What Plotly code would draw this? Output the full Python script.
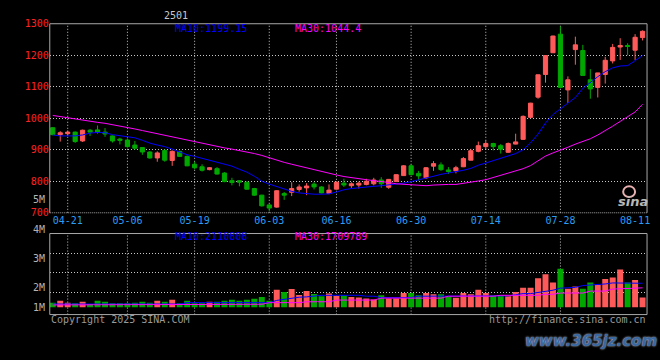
import plotly.graph_objects as go

# ---------------- data ----------------
dates = ["04-17","04-18","04-21","04-22","04-23","04-24","04-25","04-28","04-29","04-30",
         "05-06","05-07","05-08","05-09","05-12","05-13","05-14","05-15","05-16","05-19",
         "05-20","05-21","05-22","05-23","05-26","05-27","05-28","05-29","05-30","06-03",
         "06-04","06-05","06-06","06-09","06-10","06-11","06-12","06-13","06-16","06-17",
         "06-18","06-19","06-20","06-23","06-24","06-25","06-26","06-27","06-30","07-01",
         "07-02","07-03","07-04","07-07","07-08","07-09","07-10","07-11","07-14","07-15",
         "07-16","07-17","07-18","07-21","07-22","07-23","07-24","07-25","07-28","07-29",
         "07-30","07-31","08-01","08-04","08-05","08-06","08-07","08-08","08-11","08-12"]

opens = [970, 948, 951, 956, 928, 962, 963, 956, 944, 934,
         931, 915, 907, 893, 874, 898, 866, 895, 879, 854,
         846, 837, 840, 826, 802, 802, 797, 777, 756, 725,
         718, 761, 765, 774, 779, 791, 782, 761, 775, 794,
         786, 788, 790, 792, 804, 781, 799, 818, 849, 825,
         811, 848, 852, 836, 833, 846, 867, 895, 910, 920,
         913, 892, 918, 933, 1003, 1067, 1139, 1208, 1267, 1090,
         1218, 1215, 1122, 1098, 1139, 1182, 1226, 1231, 1216, 1256]
highs = [972, 959, 961, 958, 964, 966, 977, 969, 946, 938,
         936, 928, 908, 895, 895, 901, 898, 897, 882, 862,
         854, 845, 845, 829, 811, 804, 799, 779, 757, 727,
         772, 766, 797, 790, 794, 797, 784, 790, 799, 808,
         797, 799, 808, 811, 813, 807, 822, 851, 854, 833,
         845, 864, 860, 845, 849, 877, 903, 926, 929, 922,
         918, 923, 951, 1009, 1049, 1138, 1199, 1262, 1292, 1133,
         1259, 1233, 1156, 1144, 1195, 1236, 1254, 1238, 1267, 1279]
lows = [946, 926, 944, 922, 925, 944, 951, 941, 923, 917,
        907, 900, 884, 872, 862, 862, 849, 877, 848, 838,
        831, 835, 821, 797, 787, 784, 773, 754, 720, 705,
        716, 741, 753, 767, 756, 774, 762, 759, 774, 782,
        779, 777, 787, 787, 779, 776, 798, 817, 820, 802,
        807, 833, 833, 823, 825, 845, 866, 892, 902, 898,
        888, 890, 917, 931, 1000, 1062, 1113, 1207, 1098, 1049,
        1170, 1136, 1062, 1066, 1110, 1174, 1185, 1200, 1185, 1247]
closes = [948, 954, 956, 926, 962, 956, 956, 950, 928, 930,
          910, 905, 893, 874, 890, 867, 895, 879, 849, 843,
          835, 843, 823, 799, 796, 797, 775, 756, 722, 715,
          770, 756, 777, 782, 785, 782, 763, 772, 797, 788,
          792, 794, 800, 804, 792, 806, 821, 849, 821, 817,
          843, 856, 837, 831, 843, 872, 897, 913, 920, 910,
          902, 920, 925, 1006, 1048, 1138, 1199, 1261, 1098, 1122,
          1233, 1136, 1093, 1144, 1184, 1225, 1231, 1228, 1257, 1276]

ma10 = [947, 944, 944, 944, 947, 953, 955, 954, 948, 945,
        942, 938, 930, 921, 915, 910, 902, 894, 884, 879,
        873, 865, 860, 854, 848, 838, 829, 816, 800, 791,
        783, 776, 768, 763, 760, 759, 759, 760, 766, 773,
        777, 780, 782, 784, 786, 788, 790, 794, 799, 804,
        810, 816, 822, 826, 831, 835, 841, 851, 858, 865,
        874, 880, 888, 900, 922, 950, 985, 1012, 1030, 1046,
        1066, 1095, 1115, 1132, 1148, 1160, 1166, 1167, 1183, 1199.15]
ma30 = [1009, 1005, 1001, 998, 994, 990, 987, 984, 980, 976,
        971, 966, 961, 956, 951, 946, 941, 936, 931, 925,
        919, 914, 910, 906, 902, 898, 894, 888, 882, 874,
        866, 860, 854, 848, 843, 837, 831, 825, 820, 815,
        811, 808, 805, 802, 800, 796, 792, 790, 788, 787,
        786, 788, 790, 790, 790, 793, 797, 801, 805, 812,
        820, 826, 832, 840, 850, 864, 880, 890, 898, 908,
        918, 926, 935, 947, 960, 975, 990, 1004, 1020, 1044.4]

# volume in millions of lots
volume_m = [0.40, 0.57, 0.40, 0.34, 0.48, 0.28, 0.57, 0.48, 0.34, 0.34,
            0.34, 0.40, 0.48, 0.40, 0.57, 0.48, 0.66, 0.34, 0.57, 0.34,
            0.34, 0.48, 0.48, 0.57, 0.66, 0.57, 0.66, 0.74, 0.91, 0.57,
            1.54, 1.34, 1.60, 1.08, 1.42, 1.17, 0.97, 1.22, 1.00, 1.05,
            0.91, 0.85, 0.77, 0.68, 1.05, 0.77, 0.77, 1.25, 1.25, 1.05,
            1.25, 1.14, 1.14, 0.97, 0.83, 1.25, 1.14, 1.54, 1.25, 1.05,
            1.05, 0.97, 1.34, 1.71, 1.71, 2.56, 2.91, 2.19, 3.39, 1.62,
            1.82, 1.62, 2.19, 1.97, 2.48, 2.62, 3.33, 2.19, 2.39, 0.85]
vol_ma10_m = [0.28, 0.28, 0.28, 0.28, 0.28, 0.28, 0.28, 0.28, 0.28, 0.28,
              0.28, 0.28, 0.28, 0.28, 0.28, 0.28, 0.28, 0.28, 0.40, 0.40,
              0.40, 0.40, 0.40, 0.40, 0.40, 0.40, 0.40, 0.40, 0.40, 0.40,
              0.60, 0.70, 0.83, 0.88, 0.91, 1.00, 1.05, 1.05, 1.05, 1.05,
              1.05, 1.05, 0.97, 0.97, 0.85, 0.85, 0.85, 0.85, 0.85, 0.97,
              0.97, 0.97, 0.97, 0.97, 0.97, 0.97, 1.03, 1.03, 1.03, 1.00,
              1.00, 1.00, 1.10, 1.20, 1.20, 1.30, 1.42, 1.50, 1.68, 1.70,
              1.75, 1.91, 1.95, 2.05, 2.05, 2.14, 2.14, 2.14, 2.14, 2.110808]
vol_ma30_m = [0.20, 0.20, 0.20, 0.20, 0.20, 0.20, 0.20, 0.20, 0.20, 0.20,
              0.20, 0.26, 0.26, 0.26, 0.26, 0.26, 0.26, 0.26, 0.26, 0.26,
              0.26, 0.26, 0.26, 0.26, 0.26, 0.26, 0.26, 0.26, 0.26, 0.40,
              0.40, 0.40, 0.40, 0.40, 0.48, 0.48, 0.48, 0.48, 0.63, 0.63,
              0.63, 0.63, 0.63, 0.63, 0.80, 0.80, 0.80, 0.80, 0.80, 0.80,
              0.80, 0.80, 0.80, 0.97, 0.97, 0.97, 0.97, 0.97, 0.97, 0.97,
              1.05, 1.05, 1.05, 1.05, 1.05, 1.05, 1.14, 1.14, 1.25, 1.25,
              1.25, 1.25, 1.42, 1.42, 1.42, 1.60, 1.62, 1.65, 1.68, 1.709789]

tick_dates = ["04-21", "05-06", "05-19", "06-03", "06-16", "06-30", "07-14", "07-28", "08-11"]
price_ticks = [700, 800, 900, 1000, 1100, 1200, 1300]
vol_labels = ["4M", "3M", "2M", "1M"]
contract = "2501"

# ---------------- styling ----------------
W, H = 660, 360
def px(x): return x / W
def py(y): return 1 - y / H

RED = "#ff5a5a"
GREEN = "#00a800"
BLUE = "#0000ff"
MAG = "#ff00ff"
GRID = "#c8c8c8"
BORDER = "#a8a8a8"
GREY = "#b4b4b4"
MONO = "DejaVu Sans Mono"

volume = [v * 1e6 for v in volume_m]
vol_ma10 = [v * 1e6 for v in vol_ma10_m]
vol_ma30 = [v * 1e6 for v in vol_ma30_m]
bar_colors = [RED if c >= o else GREEN for o, c in zip(opens, closes)]

fig = go.Figure()
fig.add_trace(go.Candlestick(
    x=dates, open=opens, high=highs, low=lows, close=closes,
    increasing=dict(line=dict(color=RED, width=1), fillcolor=RED),
    decreasing=dict(line=dict(color=GREEN, width=1), fillcolor=GREEN),
    whiskerwidth=0, hoverinfo="skip", xaxis="x", yaxis="y"))
fig.add_trace(go.Scatter(x=dates, y=ma10, mode="lines", line=dict(color=BLUE, width=1),
                         hoverinfo="skip", xaxis="x", yaxis="y"))
fig.add_trace(go.Scatter(x=dates, y=ma30, mode="lines", line=dict(color=MAG, width=1),
                         hoverinfo="skip", xaxis="x", yaxis="y"))

fig.add_trace(go.Bar(x=dates, y=volume, marker=dict(color=bar_colors, line=dict(width=0)),
                     width=0.8, hoverinfo="skip", xaxis="x2", yaxis="y2"))
fig.add_trace(go.Scatter(x=dates, y=vol_ma10, mode="lines", line=dict(color=BLUE, width=1),
                         hoverinfo="skip", xaxis="x2", yaxis="y2"))
fig.add_trace(go.Scatter(x=dates, y=vol_ma30, mode="lines", line=dict(color=MAG, width=1),
                         hoverinfo="skip", xaxis="x2", yaxis="y2"))

xdom = [px(50), px(650)]
shapes = []
# vertical dotted grid lines at dated ticks (none at the last one)
for d in tick_dates[:-1]:
    for xr, yr in (("x", "y domain"), ("x2", "y2 domain")):
        shapes.append(dict(type="line", xref=xr, yref=yr, x0=d, x1=d, y0=0, y1=1,
                           line=dict(color=GRID, width=1, dash="1px,2px"), layer="below"))
# main panel border
for (x0, y0, x1, y1, dash) in ((0, 0, 0, 1, "solid"), (0, 1, 1, 1, "solid"),
                               (1, 0, 1, 1, "solid"), (0, 0, 1, 0, "1px,1px")):
    shapes.append(dict(type="line", xref="x domain", yref="y domain", x0=x0, y0=y0, x1=x1, y1=y1,
                       line=dict(color=BORDER, width=1, dash=dash)))
# volume panel border
shapes.append(dict(type="rect", xref="x2 domain", yref="y2 domain", x0=0, y0=0, x1=1, y1=1,
                   line=dict(color=BORDER, width=1)))
# sina logo eye
shapes.append(dict(type="circle", xref="paper", yref="paper",
                   x0=px(626), x1=px(638), y0=py(197), y1=py(186),
                   line=dict(color="#e8b0b0", width=2)))

ann = []
def text(x, y, s, color, anchor="left", size=10, family=MONO, **kw):
    ann.append(dict(x=px(x), y=py(y), xref="paper", yref="paper", text=s, showarrow=False,
                    xanchor=anchor, yanchor="middle", font=dict(family=family, size=size, color=color, **kw)))

text(176.5, 10, contract, "#c8c8c8", anchor="center")
text(174, 23.5, "MA10:%.2f" % ma10[-1], BLUE)
text(294, 23.5, "MA30:%.1f" % ma30[-1], MAG)
text(174, 238, "MA10:%d" % round(vol_ma10[-1]), BLUE)
text(294, 238, "MA30:%d" % round(vol_ma30[-1]), MAG)
text(47, 200, "5M", GREY, anchor="right")
for lab, y in zip(vol_labels, [231, 260.5, 290.5, 310.5]):
    text(47, y, lab, GREY, anchor="right")
text(49, 323, "Copyright 2025 SINA.COM", "#9a9a9a")
text(651, 323, "http://finance.sina.com.cn", "#9a9a9a", anchor="right")
text(636, 202, "<b><i>sina</i></b>", "#b8b8b8", anchor="center", size=13, family="DejaVu Sans")
text(594, 346, "<b><i>www.365jz.com</i></b>", "#3a68a0", anchor="center", size=15,
     family="DejaVu Sans", shadow="0px 0px 2px #e8f0ff")

fig.update_layout(
    width=W, height=H, margin=dict(l=0, r=0, t=0, b=0),
    paper_bgcolor="black", plot_bgcolor="black", showlegend=False,
    hovermode=False, boxgap=0.2, bargap=0.2,
    xaxis=dict(domain=xdom, type="category", categoryorder="array", categoryarray=dates,
               range=[-0.4, 79.6], anchor="y", tickmode="array",
               tickvals=tick_dates, ticktext=tick_dates,
               tickfont=dict(family=MONO, size=10, color="#2a9df4"),
               showgrid=False, zeroline=False, showline=False, ticks="",
               rangeslider=dict(visible=False), fixedrange=True),
    xaxis2=dict(domain=xdom, type="category", matches="x", anchor="y2",
                showticklabels=False, showgrid=False, zeroline=False, showline=False,
                ticks="", fixedrange=True),
    yaxis=dict(domain=[py(213.3), py(18.3)], range=[700, 1300], tickmode="array",
               tickvals=price_ticks, ticktext=[str(v) for v in price_ticks],
               tickfont=dict(family=MONO, size=10, color="#ff2222"),
               showgrid=True, gridcolor=GRID, gridwidth=1, griddash="1px,2px",
               zeroline=False, showline=False, ticks="", fixedrange=True),
    yaxis2=dict(domain=[py(318.3), py(234.7)], range=[-0.65e6, 6.5e6], tickmode="array",
                tickvals=[1.34e6, 3.05e6, 4.76e6], showticklabels=False,
                showgrid=True, gridcolor=GRID, gridwidth=1, griddash="1px,2px",
                zeroline=False, showline=False, ticks="", fixedrange=True),
    shapes=shapes, annotations=ann,
)

fig.write_html("out.html", config={"displayModeBar": False},
               post_script="document.body.style.margin='0px';document.body.style.background='black';")
